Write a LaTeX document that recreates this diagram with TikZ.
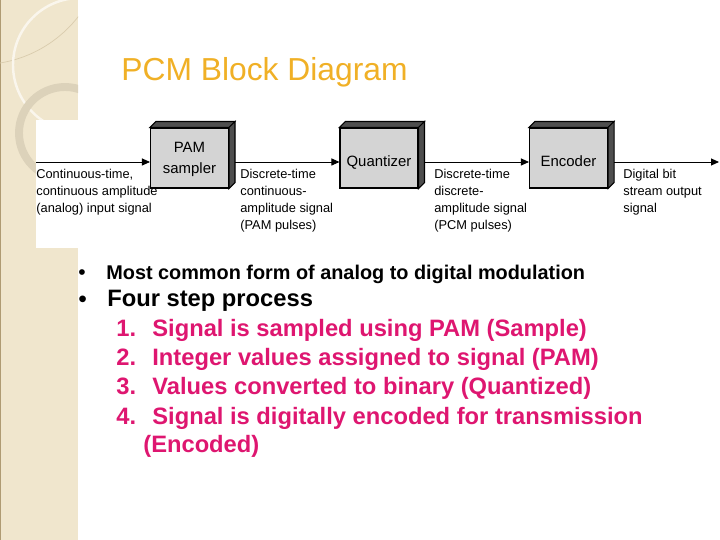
\documentclass[tikz,border=0pt]{standalone}
\usepackage{fontspec}
\setmainfont{Liberation Sans}
\usetikzlibrary{arrows.meta,calc}
\definecolor{stripbeige}{RGB}{240,230,205}
\definecolor{stripedge}{RGB}{175,155,115}
\definecolor{ringtan}{RGB}{220,210,186}
\definecolor{titlegold}{RGB}{240,176,38}
\definecolor{steppink}{RGB}{222,22,112}
\definecolor{facegray}{RGB}{212,212,212}
\definecolor{sidegray}{RGB}{78,78,78}

\tikzset{
  block/.style={draw=black, line width=0.6pt, fill=facegray, minimum width=1.56cm,
    minimum height=1.2cm, inner sep=0pt, align=center, text depth=0pt,
    font=\fontsize{8.5}{11.9}\selectfont},
  oneline/.style={text height=0.33cm},
  sig/.style={-{Triangle[length=0.16cm,width=0.14cm]}, line width=0.5pt},
  note/.style={anchor=north west, align=left, inner sep=0pt,
    font=\fontsize{7.3}{9.6}\selectfont},
  item/.style={anchor=base west, inner sep=0pt},
}

\begin{document}
\begin{tikzpicture}[x=0.02cm,y=-0.02cm]
\useasboundingbox (0,0) rectangle (720,540);
% left strip
\fill[stripbeige] (0,0) rectangle (78,540);
\draw[stripedge, line width=0.8pt] (0.5,0) -- (0.5,540);
\begin{scope}
  \clip (0,0) rectangle (78,540);
  \draw[stripedge!35!stripbeige, line width=0.4pt] (-20,-60) circle (124.6);
  \draw[white!65!stripbeige, line width=1.4pt] (80,65) circle (67);
  \draw[ringtan, line width=4.5pt] (65,133) circle (46);
\end{scope}
\fill[white] (36,120) rectangle (720,248);

\node[anchor=base, font=\fontsize{18.1}{22}\selectfont, text=titlegold] (title) at (264.5,80.5) {PCM Block Diagram};

% signal labels
\node[note] (inlbl) at (36,169) {Continuous-time,\\continuous amplitude\\(analog) input signal};
\node[note] (pamlbl) at (240,169) {Discrete-time\\continuous-\\amplitude signal\\(PAM pulses)};
\node[note] (pcmlbl) at (434,169) {Discrete-time\\discrete-\\amplitude signal\\(PCM pulses)};
\node[note] (outlbl) at (623,169) {Digital bit\\stream output\\signal};

% blocks
\node[block] (pam) at (189.5,158) {PAM\\sampler};
\node[block, oneline] (quant) at (379,158) {Quantizer};
\node[block, oneline] (enc) at (568.5,158) {Encoder};
\foreach \b in {pam,quant,enc} {
  \filldraw[fill=sidegray, draw=black, line width=0.6pt]
    (\b.north west) -- ++(6,-6) -- ($(\b.north east)+(6,-6)$) -- (\b.north east) -- cycle;
  \filldraw[fill=sidegray, draw=black, line width=0.6pt]
    (\b.north east) -- ++(6,-6) -- ($(\b.south east)+(6,-6)$) -- (\b.south east) -- cycle;
}

% connectors
\coordinate (in) at (36,162);
\coordinate (out) at (719,162);
\draw[sig] (in) -- (in -| pam.west);
\draw[sig] ($(pam.east)+(6,4)$) -- ($(quant.west)+(0,4)$);
\draw[sig] ($(quant.east)+(6,4)$) -- ($(enc.west)+(0,4)$);
\draw[sig] ($(enc.east)+(6,4)$) -- (out);

% bullets
\node[item, font=\fontsize{12}{13}\selectfont] (dot1) at (78,280) {•};
\node[item, font=\fontsize{11.3}{13}\selectfont\bfseries] (b1) at (106,280) {Most common form of analog to digital modulation};
\node[item, font=\fontsize{14}{15}\selectfont] (dot2) at (78,308) {•};
\node[item, font=\fontsize{13.5}{16}\selectfont\bfseries] (b2) at (107,307) {Four step process};

% steps
\tikzset{every node/.append style={text=steppink, font=\fontsize{13.5}{16}\selectfont\bfseries}}
\node[item] (n1) at (116,337) {1.};
\node[item] (s1) at (152,337) {Signal is sampled using PAM (Sample)};
\node[item] (n2) at (116,366) {2.};
\node[item] (s2) at (152,366) {Integer values assigned to signal (PAM)};
\node[item] (n3) at (116,395) {3.};
\node[item] (s3) at (152,395) {Values converted to binary (Quantized)};
\node[item] (n4) at (116,424) {4.};
\node[item] (s4) at (152,424) {Signal is digitally encoded for transmission};
\node[item] (s4b) at (143,452) {(Encoded)};
\end{tikzpicture}
\end{document}
